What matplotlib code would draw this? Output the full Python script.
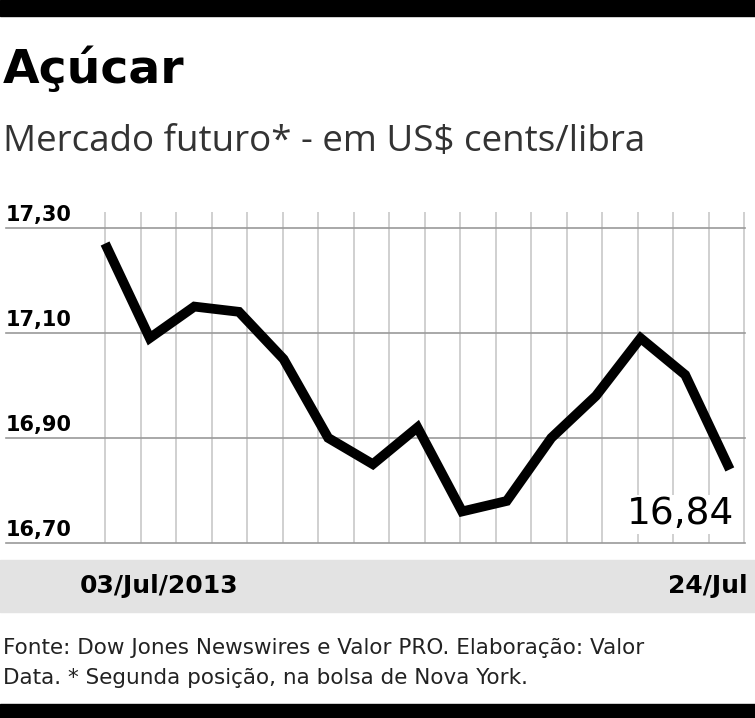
import matplotlib
matplotlib.use("Agg")
import matplotlib.pyplot as plt
from matplotlib.patches import Rectangle

dates = ["03/Jul", "05/Jul", "08/Jul", "09/Jul", "10/Jul", "11/Jul", "12/Jul", "15/Jul",
         "16/Jul", "17/Jul", "18/Jul", "19/Jul", "22/Jul", "23/Jul", "24/Jul"]
prices = [17.27, 17.09, 17.15, 17.14, 17.05, 16.90, 16.85, 16.92, 16.76, 16.78,
          16.90, 16.98, 17.09, 17.02, 16.84]
yticks = [16.70, 16.90, 17.10, 17.30]
ytick_labels = ["16,70", "16,90", "17,10", "17,30"]

W, H = 755, 718
fig = plt.figure(figsize=(W/100, H/100), dpi=100)
fig.patch.set_facecolor("white")

def fx(px): return px / W
def fy(py): return 1 - py / H

fig.add_artist(Rectangle((0, fy(16)), 1, 16/H, transform=fig.transFigure, color="black"))
fig.add_artist(Rectangle((0, 0), 1, 14/H, transform=fig.transFigure, color="black"))
fig.add_artist(Rectangle((0, fy(612)), 1, 52/H, transform=fig.transFigure, color="#e3e3e3"))

fig.text(fx(3), fy(70), "Açúcar", fontsize=34, fontweight="bold", va="center", ha="left",
         family="DejaVu Sans Condensed")
fig.text(fx(3), fy(142), "Mercado futuro* - em US$ cents/libra", fontsize=26.5, va="center",
         ha="left", color="#333333", family="Open Sans")

ax = fig.add_axes([fx(85), fy(543), fx(745) - fx(85), (543 - 212) / H])
ax.set_xlim(-0.45, 14.34)
ax.set_ylim(16.70, 17.33)
for s in ax.spines.values():
    s.set_visible(False)
ax.set_xticks([]); ax.set_yticks([])
for i in range(19):
    xa = (105 - 85 + i * 35.5) / (745 - 85)
    if xa <= 1:
        ax.plot([xa, xa], [0, 1], transform=ax.transAxes, color="#c8c8c8", lw=1.2, zorder=1)
for v in yticks:
    ax.plot([-0.12, 1], [v, v], transform=ax.get_yaxis_transform(),
            color="#9a9a9a", lw=1.2, clip_on=False, zorder=1)
for v, lab in zip(yticks, ytick_labels):
    ax.text(-0.12, v + 0.005, lab, transform=ax.get_yaxis_transform(), fontsize=15, fontweight="bold",
            va="bottom", ha="left", family="DejaVu Sans Condensed")
ax.plot(range(len(prices)), prices, color="black", lw=7, solid_joinstyle="miter",
        solid_capstyle="butt", zorder=3)
ax.text(len(prices) - 1 + 0.1, 16.72, "16,84", fontsize=27, ha="right", va="bottom",
        family="DejaVu Sans Condensed", zorder=4,
        bbox=dict(facecolor="white", edgecolor="none", pad=1))

fig.text(fx(80), fy(586), "03/Jul/2013", fontsize=18, fontweight="bold", va="center",
         family="DejaVu Sans Condensed")
fig.text(fx(748), fy(586), "24/Jul", fontsize=18, fontweight="bold", va="center", ha="right",
         family="DejaVu Sans Condensed")

fig.text(fx(3), fy(648), "Fonte: Dow Jones Newswires e Valor PRO. Elaboração: Valor",
         fontsize=15.5, va="center", family="DejaVu Sans Condensed", color="#222222")
fig.text(fx(3), fy(678), "Data. * Segunda posição, na bolsa de Nova York.",
         fontsize=15.5, va="center", family="DejaVu Sans Condensed", color="#222222")

fig.savefig("out.png", dpi=100)
